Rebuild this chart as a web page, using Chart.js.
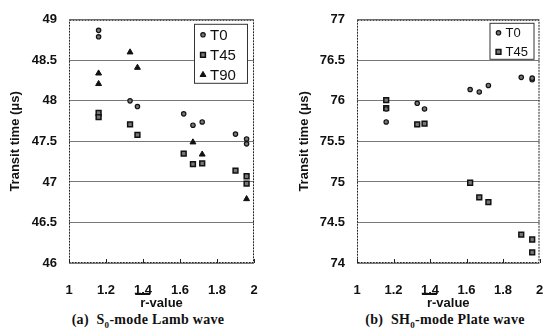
<!DOCTYPE html>
<html lang="en">
<head>
    <meta charset="UTF-8">
    <title>Transit time vs r-value</title>
    <script src="https://cdn.jsdelivr.net/npm/chart.js"></script>
    <style>
        body { margin: 0; background: #fff; overflow: hidden; }
        .wrap { position: relative; width: 545px; height: 333px; }
        .box { position: absolute; top: 0; height: 312px; }
        .cap { position: absolute; top: 312px; width: 200px; text-align: center; font: bold 14px "Liberation Serif", serif; letter-spacing: 0.3px; color: #111; white-space: nowrap; }
        .cap sub { font-size: 9px; }
    </style>
</head>
<body>
<div class="wrap">
    <div class="box" style="left:0; width:272px;"><canvas id="lambChart"></canvas></div>
    <div class="box" style="left:289px; width:256px;"><canvas id="plateChart"></canvas></div>
    <div class="cap" style="left:48px;">(a)&nbsp;&nbsp;S<sub>0</sub>-mode Lamb wave</div>
    <div class="cap" style="left:345px;">(b)&nbsp;&nbsp;SH<sub>0</sub>-mode Plate wave</div>
</div>
<script>
    // S0-mode Lamb wave
    const lambT0_r = [1.16, 1.16, 1.33, 1.37, 1.62, 1.67, 1.72, 1.90, 1.96, 1.96];
    const lambT0_t = [48.87, 48.79, 48.00, 47.93, 47.84, 47.70, 47.74, 47.59, 47.53, 47.47];
    const lambT45_r = [1.16, 1.16, 1.33, 1.37, 1.62, 1.67, 1.72, 1.90, 1.96, 1.96];
    const lambT45_t = [47.85, 47.80, 47.71, 47.58, 47.35, 47.22, 47.23, 47.14, 47.07, 46.98];
    const lambT90_r = [1.16, 1.16, 1.33, 1.37, 1.67, 1.72, 1.96];
    const lambT90_t = [48.34, 48.21, 48.60, 48.41, 47.49, 47.34, 46.79];

    // SH0-mode plate wave
    const plateT0_r = [1.16, 1.16, 1.33, 1.37, 1.62, 1.67, 1.72, 1.90, 1.96, 1.96];
    const plateT0_t = [75.90, 75.74, 75.97, 75.90, 76.14, 76.11, 76.19, 76.29, 76.26, 76.28];
    const plateT45_r = [1.16, 1.16, 1.33, 1.37, 1.62, 1.67, 1.72, 1.90, 1.96, 1.96];
    const plateT45_t = [76.01, 75.91, 75.71, 75.72, 74.99, 74.81, 74.75, 74.35, 74.29, 74.13];

    const xTitle = 'r-value';
    const yTitle = 'Transit time (\u03bcs)';

    const pts = (xs, ys) => xs.map((x, i) => ({ x: x, y: ys[i] }));
    // 49 not 49.0, 1 not 1.0
    const plain = v => String(Math.round(v * 10) / 10);

    const styles = {
        T0: { pointStyle: 'circle', pointRadius: 2.2, backgroundColor: '#777', borderColor: '#111', pointBorderWidth: 1.2 },
        T45: { pointStyle: 'rect', pointRadius: 3.4, backgroundColor: '#777', borderColor: '#111', pointBorderWidth: 1.5 },
        T90: { pointStyle: 'triangle', pointRadius: 3.4, backgroundColor: '#111', borderColor: '#111', pointBorderWidth: 1 }
    };

    const tickFont = { family: 'Liberation Sans', size: 13, weight: 'bold' };

    // frame, minor ticks, overline on r and the inner legend box
    const decor = {
        id: 'decor',
        afterDraw(chart, args, opts) {
            const { ctx, chartArea: a, scales } = chart;
            ctx.save();
            ctx.strokeStyle = '#222';
            ctx.lineWidth = 1;
            ctx.setLineDash([2, 1]);
            ctx.strokeRect(a.left + 0.5, a.top + 0.5, a.right - a.left - 1, a.bottom - a.top - 1);
            ctx.setLineDash([]);
            scales.x.ticks.forEach(t => {
                const px = Math.round(scales.x.getPixelForValue(t.value)) + 0.5;
                ctx.beginPath();
                ctx.moveTo(px, a.bottom);
                ctx.lineTo(px, a.bottom - 4);
                ctx.stroke();
            });

            // bar over r
            ctx.font = 'bold 13px "Liberation Sans"';
            const w = ctx.measureText(xTitle).width;
            const x0 = (a.left + a.right) / 2 - w / 2;
            ctx.lineWidth = 2;
            ctx.strokeStyle = '#111';
            ctx.beginPath();
            ctx.moveTo(x0 - 5, opts.barY);
            ctx.lineTo(x0 + 10, opts.barY);
            ctx.stroke();

            // legend
            const L = opts.legend;
            ctx.lineWidth = 1;
            ctx.strokeStyle = '#333';
            ctx.fillStyle = '#fff';
            const bx = a.right - L.right - L.w, by = a.top + L.top;
            ctx.fillRect(bx, by, L.w, L.h);
            ctx.strokeRect(bx + 0.5, by + 0.5, L.w, L.h);
            ctx.font = L.size + 'px "Liberation Sans"';
            ctx.textBaseline = 'middle';
            chart.data.datasets.forEach((ds, i) => {
                const cy = by + L.first + i * L.step;
                ctx.fillStyle = ds.backgroundColor;
                ctx.strokeStyle = ds.borderColor;
                ctx.lineWidth = ds.pointBorderWidth;
                Chart.helpers.drawPoint(ctx, { pointStyle: ds.pointStyle, radius: ds.pointRadius, borderWidth: ds.pointBorderWidth }, bx + 9, cy);
                ctx.fillStyle = '#111';
                ctx.fillText(ds.label, bx + 16, cy + 1);
            });
            ctx.restore();
        }
    };

    function makeChart(id, series, yMin, yMax, pad, yWidth, legend) {
        return new Chart(document.getElementById(id), {
            type: 'scatter',
            data: {
                datasets: series.map(s => Object.assign({ label: s.label, data: pts(s.r, s.t) }, styles[s.label]))
            },
            options: {
                responsive: true,
                maintainAspectRatio: false,
                animation: false,
                layout: { padding: pad },
                plugins: {
                    legend: { display: false },
                    tooltip: { enabled: false },
                    decor: { barY: 294, legend: legend }
                },
                scales: {
                    x: {
                        min: 1, max: 2,
                        // fixed height, and no extra side room for the end labels
                        afterFit: s => { s.height = 49; s.paddingLeft = 0; s.paddingRight = 0; },
                        ticks: { stepSize: 0.2, padding: 12, color: '#111', font: tickFont, maxRotation: 0, callback: plain },
                        grid: { display: false },
                        border: { display: false },
                        title: { display: true, text: xTitle, color: '#111', font: tickFont, padding: { top: 0, bottom: 1 } }
                    },
                    y: {
                        min: yMin, max: yMax,
                        afterFit: s => { s.width = yWidth; },
                        ticks: { stepSize: 0.5, padding: 12, color: '#111', font: tickFont, callback: plain },
                        grid: { color: '#777', lineWidth: 1, drawTicks: false },
                        border: { display: false },
                        title: { display: true, text: yTitle, color: '#111', font: tickFont, padding: { top: 8, bottom: 0 } }
                    }
                }
            },
            plugins: [decor]
        });
    }

    makeChart('lambChart', [
        { label: 'T0', r: lambT0_r, t: lambT0_t },
        { label: 'T45', r: lambT45_r, t: lambT45_t },
        { label: 'T90', r: lambT90_r, t: lambT90_t }
    ], 46, 49, { top: 16, right: 18, left: 0, bottom: 0 }, 69,
        { right: 7, top: 4, w: 53, h: 59, first: 11, step: 20, size: 15 });

    makeChart('plateChart', [
        { label: 'T0', r: plateT0_r, t: plateT0_t },
        { label: 'T45', r: plateT45_r, t: plateT45_t }
    ], 74, 77, { top: 15, right: 5, left: 0, bottom: 0 }, 68,
        { right: 6, top: 3, w: 44, h: 36, first: 10, step: 19, size: 13 });
</script>
</body>
</html>
